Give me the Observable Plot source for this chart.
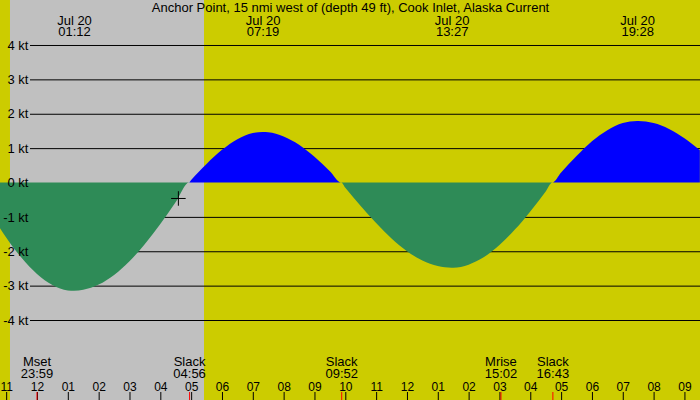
<!DOCTYPE html>
<html>
<head>
<meta charset="utf-8">
<script src="https://cdn.jsdelivr.net/npm/d3@7"></script>
<script src="https://cdn.jsdelivr.net/npm/@observablehq/plot@0.6"></script>
<style>
  html, body { margin: 0; padding: 0; background: #fff; }
</style>
</head>
<body>
<div id="chart"></div>
<script>
// ---- Data (hours relative to Jul 20 00:00) ----
const title = "Anchor Point, 15 nmi west of (depth 49 ft), Cook Inlet, Alaska Current";

// Current speed (kt)
const sampleHours = [-1.2, -1.0, -0.5, 0, 0.5, 1.0, 1.2, 1.5, 2.0, 2.5, 3.0, 3.5, 4.0, 4.5, 4.933,
  5.0, 5.5, 6.0, 6.5, 7.0, 7.317, 7.5, 8.0, 8.5, 9.0, 9.5, 9.867,
  10.0, 10.5, 11.0, 11.5, 12.0, 12.5, 13.0, 13.45, 13.5, 14.0, 14.5, 15.0, 15.5, 16.0, 16.5, 16.717,
  17.0, 17.5, 18.0, 18.5, 19.0, 19.467, 19.5, 20.0, 20.5, 21.0, 21.5];
const sampleKnots = [-1.33, -1.60, -2.19, -2.66, -2.98, -3.14, -3.15, -3.12, -2.97, -2.69, -2.29, -1.79, -1.21, -0.57, 0,
  0.07, 0.54, 0.95, 1.26, 1.44, 1.47, 1.46, 1.34, 1.10, 0.75, 0.33, 0,
  -0.15, -0.68, -1.18, -1.63, -2.00, -2.27, -2.43, -2.48, -2.48, -2.39, -2.17, -1.82, -1.37, -0.84, -0.26, 0,
  0.29, 0.77, 1.20, 1.52, 1.73, 1.79, 1.79, 1.73, 1.56, 1.29, 0.94];

// Max/min current events (top labels)
const peakHours = [1.2, 7.317, 13.45, 19.467];
const peakDates = ["Jul 20", "Jul 20", "Jul 20", "Jul 20"];
const peakTimes = ["01:12", "07:19", "13:27", "19:28"];

// Events at the bottom
const eventHours = [-0.017, 4.933, 9.867, 15.033, 16.717];
const eventNames = ["Mset", "Slack", "Slack", "Mrise", "Slack"];
const eventTimes = ["23:59", "04:56", "09:52", "15:02", "16:43"];

// Hour ticks
const tickHours = [-1, 0, 1, 2, 3, 4, 5, 6, 7, 8, 9, 10, 11, 12, 13, 14, 15, 16, 17, 18, 19, 20, 21];
const tickLabels = ["11", "12", "01", "02", "03", "04", "05", "06", "07", "08", "09", "10",
  "11", "12", "01", "02", "03", "04", "05", "06", "07", "08", "09"];

// Y gridlines (kt)
const knotTicks = [4, 3, 2, 1, 0, -1, -2, -3, -4];
const knotGrid = [4, 3, 2, 1, -1, -2, -3, -4];

// Night (sunset 23:07 Jul 19 -> sunrise 05:25 Jul 20)
const nightStart = [-0.876];
const nightEnd = [5.417];

// "now" marker
const nowHour = [4.57];
const nowKnots = [-0.45];

// ---- Build ----
const xDomain = [-1.2, 21.505];
const yDomain = [-6.327, 5.309];

const samples = sampleHours.map((t, i) => ({t, v: sampleKnots[i]}));
const peaks = peakHours.map((t, i) => ({t, label: `${peakDates[i]}\n${peakTimes[i]}`}));
const events = eventHours.map((t, i) => ({t, label: `${eventNames[i]}\n${eventTimes[i]}`}));
const ticks = tickHours.map((t, i) => ({t, label: tickLabels[i]}));
const nights = nightStart.map((s, i) => ({x1: s, x2: nightEnd[i]}));
const now = nowHour.map((t, i) => ({t, v: nowKnots[i]}));

const YELLOW = "#cccc00", GRAY = "#c0c0c0", BLUE = "#0000ff", GREEN = "#2e8b57";

const chart = Plot.plot({
  width: 700,
  height: 400,
  margin: 0,
  x: {domain: xDomain, axis: null},
  y: {domain: yDomain, axis: null},
  style: {fontFamily: "'Liberation Sans', Arial, sans-serif", fontSize: "13px", background: YELLOW, overflow: "visible"},
  marks: [
    Plot.rect([{x1: xDomain[0], x2: xDomain[1]}], {x1: "x1", x2: "x2", y1: yDomain[0], y2: yDomain[1], fill: YELLOW}),
    Plot.rect(nights, {x1: "x1", x2: "x2", y1: yDomain[0], y2: yDomain[1], fill: GRAY}),
    Plot.ruleY(knotGrid, {y: d => d, insetLeft: 30, stroke: "black", strokeWidth: 1}),
    Plot.areaY(samples, {x: "t", y1: 0, y2: d => Math.max(0, d.v), fill: BLUE, curve: "monotone-x"}),
    Plot.areaY(samples, {x: "t", y1: 0, y2: d => Math.min(0, d.v), fill: GREEN, curve: "monotone-x"}),
    Plot.text(knotTicks, {y: d => d, text: d => `${d} kt`, frameAnchor: "left", lineAnchor: "middle", dx: 28, textAnchor: "end", fill: "black", fontSize: 13}),
    Plot.text([title], {text: d => d, frameAnchor: "top", lineAnchor: "middle", dy: 7.8, fill: "black", fontSize: 13}),
    Plot.text(peaks, {x: "t", text: "label", frameAnchor: "top", lineAnchor: "middle", dy: 26.4, lineHeight: 0.85, fill: "black", fontSize: 13}),
    Plot.text(events, {x: "t", text: "label", frameAnchor: "bottom", lineAnchor: "middle", dy: -32.2, lineHeight: 0.923, fill: "black", fontSize: 13}),
    Plot.text(ticks, {x: "t", text: "label", frameAnchor: "bottom", lineAnchor: "middle", dy: -13.8, fill: "black", fontSize: 12}),
    Plot.ruleX(ticks, {x: "t", insetTop: 392, stroke: "black"}),
    Plot.ruleX(events, {x: "t", insetTop: 392, stroke: "red"}),
    Plot.dot(now, {x: "t", y: "v", symbol: "plus", r: 4.75, stroke: "black", strokeWidth: 1})
  ]
});
document.getElementById("chart").appendChild(chart);
</script>
</body>
</html>
